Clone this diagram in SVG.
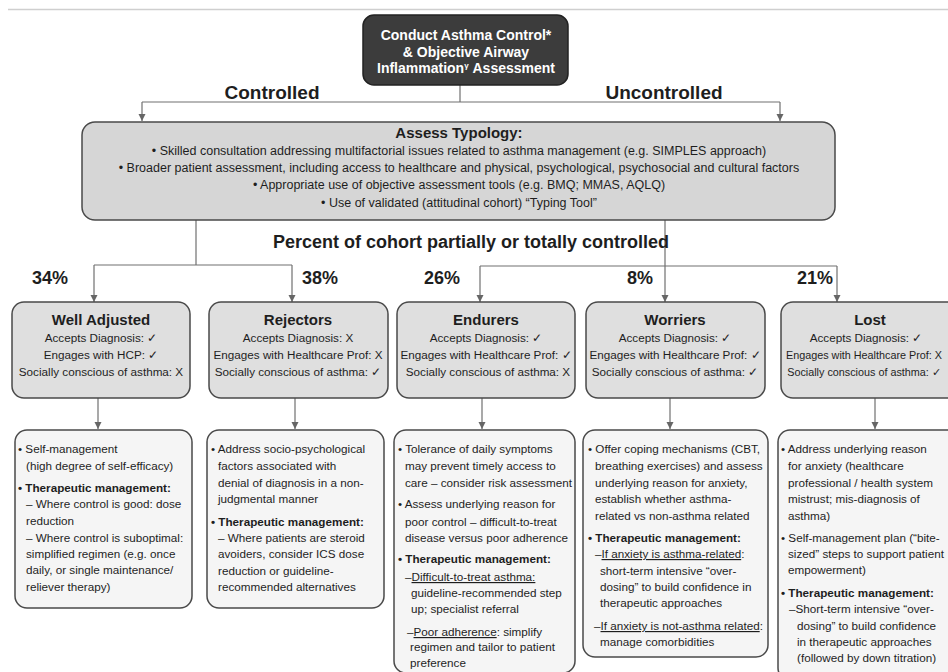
<svg xmlns="http://www.w3.org/2000/svg" width="948" height="672" viewBox="0 0 948 672">
<style>
text{font-family:"Liberation Sans",Arial,sans-serif;fill:#1e1e1e}
.h{font-weight:bold;font-size:19px;text-anchor:middle}
.pct{font-weight:bold;font-size:18px}
.top{font-weight:bold;font-size:14px;fill:#fff;text-anchor:middle}
.at{font-size:12.5px;text-anchor:middle}
.att{font-weight:bold;font-size:15px;text-anchor:middle}
.t{font-weight:bold;font-size:15px;text-anchor:middle}
.c{font-size:11.7px;text-anchor:middle}
.cs{font-size:10.8px;text-anchor:middle}
.s{font-size:11.7px}
.bd{font-weight:bold}
.u{text-decoration:underline}
.box2{fill:#dfdfdf;stroke:#4a4a4a;stroke-width:1.5}
.box3{fill:#f5f5f5;stroke:#4a4a4a;stroke-width:1.5}
.con path{fill:none;stroke:#707070;stroke-width:1.2}
</style>
<defs>
<marker id="ad" markerUnits="userSpaceOnUse" markerWidth="8" markerHeight="9" refX="8" refY="4" orient="auto" viewBox="0 0 9 8">
<path d="M0,0 L8,4 L0,8 Z" fill="#666"/>
</marker>
</defs>
<rect width="948" height="672" fill="#fff"/>
<path d="M8,9.5 H948" stroke="#cfcfcf" stroke-width="1.5"/>

<g class="con" id="connectors">
<path d="M460,85 V102"/>
<path d="M142,102 H780"/>
<path d="M142,102 V121" marker-end="url(#ad)"/>
<path d="M780,102 V121" marker-end="url(#ad)"/>
<path d="M196,220 V265"/>
<path d="M94,265 H292"/>
<path d="M94,265 V302" marker-end="url(#ad)"/>
<path d="M292,265 V302" marker-end="url(#ad)"/>
<path d="M665,220 V302" marker-end="url(#ad)"/>
<path d="M480,266 H837"/>
<path d="M480,266 V302" marker-end="url(#ad)"/>
<path d="M837,266 V302" marker-end="url(#ad)"/>
<path d="M98,398 V429" marker-end="url(#ad)"/>
<path d="M295,398 V429" marker-end="url(#ad)"/>
<path d="M482,398 V429" marker-end="url(#ad)"/>
<path d="M670,398 V429" marker-end="url(#ad)"/>
<path d="M875,398 V429" marker-end="url(#ad)"/>
</g>

<g id="labels">
<text class="h" x="272" y="99">Controlled</text>
<text class="h" x="664" y="99">Uncontrolled</text>
<text class="pct" x="471" y="248" text-anchor="middle">Percent of cohort partially or totally controlled</text>
<text class="pct" x="32" y="284">34%</text>
<text class="pct" x="302" y="284">38%</text>
<text class="pct" x="424" y="284">26%</text>
<text class="pct" x="627" y="284">8%</text>
<text class="pct" x="797" y="284">21%</text>
</g>

<g id="start">
<rect x="363" y="15" width="205" height="70" rx="11" fill="#3c3c3c" stroke="#222" stroke-width="1.5"/>
<text class="top" x="466" y="40">Conduct Asthma Control*</text>
<text class="top" x="466" y="57">&amp; Objective Airway</text>
<text class="top" x="466" y="73">Inflammation<tspan font-size="8" dy="-5">γ</tspan><tspan dy="5"> Assessment</tspan></text>
</g>

<g id="assess">
<rect x="82" y="122" width="753" height="98" rx="13" fill="#d6d6d6" stroke="#4a4a4a" stroke-width="1.5"/>
<text class="att" x="459" y="138">Assess Typology:</text>
<text class="at" x="459" y="155">• Skilled consultation addressing multifactorial issues related to asthma management (e.g. SIMPLES approach)</text>
<text class="at" x="459" y="172">• Broader patient assessment, including access to healthcare and physical, psychological, psychosocial and cultural factors</text>
<text class="at" x="459" y="189">• Appropriate use of objective assessment tools (e.g. BMQ; MMAS, AQLQ)</text>
<text class="at" x="459" y="207">• Use of validated (attitudinal cohort) “Typing Tool”</text>
</g>

<g id="well-adjusted">
<rect class="box2" x="12" y="302" width="178" height="96" rx="12"/>
<text class="t" x="101" y="325">Well Adjusted</text>
<text class="c" x="101" y="342">Accepts Diagnosis:  ✓</text>
<text class="c" x="101" y="359">Engages with HCP:  ✓</text>
<text class="c" x="101" y="376">Socially conscious of asthma: X</text>
</g>
<g id="rejectors">
<rect class="box2" x="209" y="302" width="179" height="96" rx="12"/>
<text class="t" x="298" y="325">Rejectors</text>
<text class="c" x="298" y="342">Accepts Diagnosis: X</text>
<text class="c" x="298" y="359">Engages with Healthcare Prof: X</text>
<text class="c" x="298" y="376">Socially conscious of asthma:  ✓</text>
</g>
<g id="endurers">
<rect class="box2" x="397" y="302" width="178" height="96" rx="12"/>
<text class="t" x="486" y="325">Endurers</text>
<text class="c" x="486" y="342">Accepts Diagnosis:  ✓</text>
<text class="c" x="486" y="359">Engages with Healthcare Prof:  ✓</text>
<text class="c" x="488" y="376">Socially conscious of asthma: X</text>
</g>
<g id="worriers">
<rect class="box2" x="586" y="302" width="179" height="96" rx="12"/>
<text class="t" x="675" y="325">Worriers</text>
<text class="c" x="675" y="342">Accepts Diagnosis:  ✓</text>
<text class="c" x="675" y="359">Engages with Healthcare Prof:  ✓</text>
<text class="c" x="675" y="376">Socially conscious of asthma:  ✓</text>
</g>
<g id="lost">
<rect class="box2" x="781" y="302" width="190" height="96" rx="12"/>
<text class="t" x="870" y="325">Lost</text>
<text class="c" x="866" y="342">Accepts Diagnosis:  ✓</text>
<text class="cs" x="864" y="359">Engages with Healthcare Prof: X</text>
<text class="cs" x="864" y="376">Socially conscious of asthma: ✓</text>
</g>

<g id="well-adjusted-actions">
<rect class="box3" x="15" y="430" width="177" height="178" rx="12"/>
<text class="s" x="18" y="453">• Self-management</text>
<text class="s" x="26" y="470">(high degree of self-efficacy)</text>
<text class="s bd" x="18" y="492">• Therapeutic management:</text>
<text class="s" x="26" y="508">– Where control is good: dose</text>
<text class="s" x="26" y="525">reduction</text>
<text class="s" x="26" y="542">– Where control is suboptimal:</text>
<text class="s" x="26" y="558">simplified regimen (e.g. once</text>
<text class="s" x="26" y="574">daily, or single maintenance/</text>
<text class="s" x="26" y="591">reliever therapy)</text>
</g>
<g id="rejectors-actions">
<rect class="box3" x="207" y="430" width="177" height="178" rx="12"/>
<text class="s" x="211" y="453">• Address socio-psychological</text>
<text class="s" x="218" y="470">factors associated with</text>
<text class="s" x="218" y="487">denial of diagnosis in a non-</text>
<text class="s" x="218" y="503">judgmental manner</text>
<text class="s bd" x="211" y="526">• Therapeutic management:</text>
<text class="s" x="218" y="542">– Where patients are steroid</text>
<text class="s" x="218" y="558">avoiders, consider ICS dose</text>
<text class="s" x="218" y="575">reduction or guideline-</text>
<text class="s" x="218" y="591">recommended alternatives</text>
</g>
<g id="endurers-actions">
<rect class="box3" x="394" y="430" width="181" height="243" rx="12"/>
<text class="s" x="398" y="453">• Tolerance of daily symptoms</text>
<text class="s" x="405" y="470">may prevent timely access to</text>
<text class="s" x="405" y="487">care – consider risk assessment</text>
<text class="s" x="398" y="508">• Assess underlying reason for</text>
<text class="s" x="405" y="526">poor control – difficult-to-treat</text>
<text class="s" x="405" y="542">disease versus poor adherence</text>
<text class="s bd" x="398" y="563">• Therapeutic management:</text>
<text class="s" x="405" y="581">–<tspan class="u">Difficult-to-treat asthma:</tspan></text>
<text class="s" x="411" y="597">guideline-recommended step</text>
<text class="s" x="411" y="613">up; specialist referral</text>
<text class="s" x="407" y="636">–<tspan class="u">Poor adherence</tspan>: simplify</text>
<text class="s" x="410" y="651">regimen and tailor to patient</text>
<text class="s" x="410" y="667">preference</text>
</g>
<g id="worriers-actions">
<rect class="box3" x="583" y="430" width="185" height="227" rx="12"/>
<text class="s" x="588" y="453">• Offer coping mechanisms (CBT,</text>
<text class="s" x="595" y="470">breathing exercises) and assess</text>
<text class="s" x="595" y="487">underlying reason for anxiety,</text>
<text class="s" x="595" y="503">establish whether  asthma-</text>
<text class="s" x="595" y="520">related vs non-asthma related</text>
<text class="s bd" x="588" y="542">• Therapeutic management:</text>
<text class="s" x="595" y="558">–<tspan class="u">If anxiety is asthma-related</tspan>:</text>
<text class="s" x="600" y="575">short-term intensive “over-</text>
<text class="s" x="600" y="591">dosing” to build confidence in</text>
<text class="s" x="600" y="607">therapeutic approaches</text>
<text class="s" x="594" y="630">–<tspan class="u">If anxiety is not-asthma related</tspan>:</text>
<text class="s" x="600" y="646">manage comorbidities</text>
</g>
<g id="lost-actions">
<rect class="box3" x="778" y="430" width="190" height="250" rx="12"/>
<text class="s" x="781" y="453">• Address underlying reason</text>
<text class="s" x="788" y="470">for anxiety (healthcare</text>
<text class="s" x="788" y="487">professional / health system</text>
<text class="s" x="788" y="503">mistrust; mis-diagnosis of</text>
<text class="s" x="788" y="520">asthma)</text>
<text class="s" x="781" y="542">• Self-management plan (“bite-</text>
<text class="s" x="788" y="558">sized” steps to support patient</text>
<text class="s" x="788" y="574">empowerment)</text>
<text class="s bd" x="781" y="597">• Therapeutic management:</text>
<text class="s" x="789" y="613">–Short-term intensive “over-</text>
<text class="s" x="797" y="630">dosing” to build confidence</text>
<text class="s" x="797" y="646">in therapeutic approaches</text>
<text class="s" x="797" y="662">(followed by down titration)</text>
</g>
</svg>
